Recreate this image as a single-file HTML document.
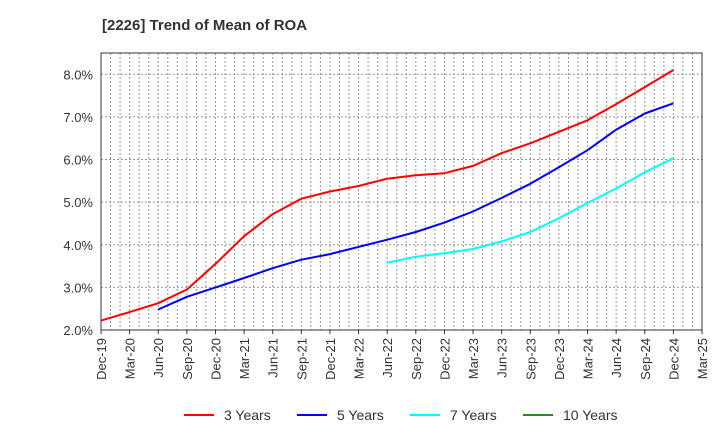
<!DOCTYPE html>
<html><head><meta charset="utf-8"><style>
body{margin:0;background:#fff;}
svg{display:block;font-family:"Liberation Sans",sans-serif;}
</style></head><body>
<svg id="chart" width="720" height="440">
<text x="102" y="30" font-size="15" font-weight="bold" fill="#333">[2226]  Trend of Mean of ROA</text>
<g id="grid"></g><g id="axes"></g><g id="series"></g>
<g>
<g><line x1="184" y1="415" x2="214" y2="415" stroke="#ff0000" stroke-width="2"/><text x="224" y="420" font-size="14" fill="#333">3 Years</text></g>
<g><line x1="297" y1="415" x2="327" y2="415" stroke="#0000ff" stroke-width="2"/><text x="337" y="420" font-size="14" fill="#333">5 Years</text></g>
<g><line x1="410" y1="415" x2="440" y2="415" stroke="#00ffff" stroke-width="2"/><text x="450" y="420" font-size="14" fill="#333">7 Years</text></g>
<g><line x1="523" y1="415" x2="553" y2="415" stroke="#228b22" stroke-width="2"/><text x="563" y="420" font-size="14" fill="#333">10 Years</text></g>
</g>
</svg>
<script>
const xLabels=["Dec-19","Mar-20","Jun-20","Sep-20","Dec-20","Mar-21","Jun-21","Sep-21","Dec-21","Mar-22","Jun-22","Sep-22","Dec-22","Mar-23","Jun-23","Sep-23","Dec-23","Mar-24","Jun-24","Sep-24","Dec-24","Mar-25"];
const yTicks=[2,3,4,5,6,7,8];
const s3=[2.22,2.42,2.63,2.95,3.55,4.2,4.72,5.08,5.25,5.38,5.55,5.63,5.68,5.85,6.15,6.38,6.65,6.92,7.3,7.7,8.1];
const s5=[2.48,2.78,3.0,3.22,3.45,3.65,3.78,3.95,4.12,4.3,4.52,4.78,5.1,5.43,5.82,6.22,6.7,7.08,7.32];
const s7=[3.58,3.72,3.8,3.9,4.08,4.3,4.62,4.98,5.32,5.7,6.03];
const s5Start=2, s7Start=10;
const L=101,R=702,T=53,B=330,yMin=2,yMax=8.5;
const NS="http://www.w3.org/2000/svg";
const xq=i=>L+(R-L)*i/(xLabels.length-1);
const y=v=>B-(v-yMin)/(yMax-yMin)*(B-T);
function mk(tag,attrs,parent){const e=document.createElementNS(NS,tag);for(const k in attrs)e.setAttribute(k,attrs[k]);parent.appendChild(e);return e;}
const grid=document.getElementById('grid'),axes=document.getElementById('axes'),ser=document.getElementById('series');
mk('rect',{x:L,y:T,width:R-L,height:B-T,fill:'#fff'},grid);
const months=(xLabels.length-1)*3;
for(let m=1;m<months;m++){const x=L+(R-L)*m/months;
 const g=mk('line',{x1:x,y1:T,x2:x,y2:B,stroke:'#999','stroke-width':1,'stroke-dasharray':'2,2'},grid);
 
 }
yTicks.forEach(v=>{const yy=y(v);
 const g=mk('line',{x1:L,y1:yy,x2:R,y2:yy,stroke:'#999','stroke-width':1,'stroke-dasharray':'2,2'},grid);
 
 
 const t=mk('text',{x:L-8,y:yy+5,'text-anchor':'end','font-size':13,fill:'#333'},axes);t.textContent=v.toFixed(1)+'%';
 
 });
xLabels.forEach((lb,i)=>{const x=xq(i);
 mk('line',{x1:x,y1:B,x2:x,y2:B+4,stroke:'#333'},axes);
 const t=mk('text',{x:0,y:0,'text-anchor':'end','font-size':13,fill:'#333',transform:`translate(${x+5},${B+8}) rotate(-90)`},axes);t.textContent=lb;
 
 });
const fr=mk('rect',{x:L,y:T,width:R-L,height:B-T,fill:'none',stroke:'#333','stroke-width':1},axes);


function line(data,start,color,name){
 const d=data.map((v,i)=>(i?'L':'M')+xq(start+i).toFixed(1)+','+y(v).toFixed(1)).join(' ');
 const p=mk('path',{d:d,fill:'none',stroke:color,'stroke-width':2,'stroke-linejoin':'round'},ser);
 
 }
line(s3,0,'#ff0000','line-3-years');
line(s5,s5Start,'#0000ff','line-5-years');
line(s7,s7Start,'#00ffff','line-7-years');
</script>
</body></html>
